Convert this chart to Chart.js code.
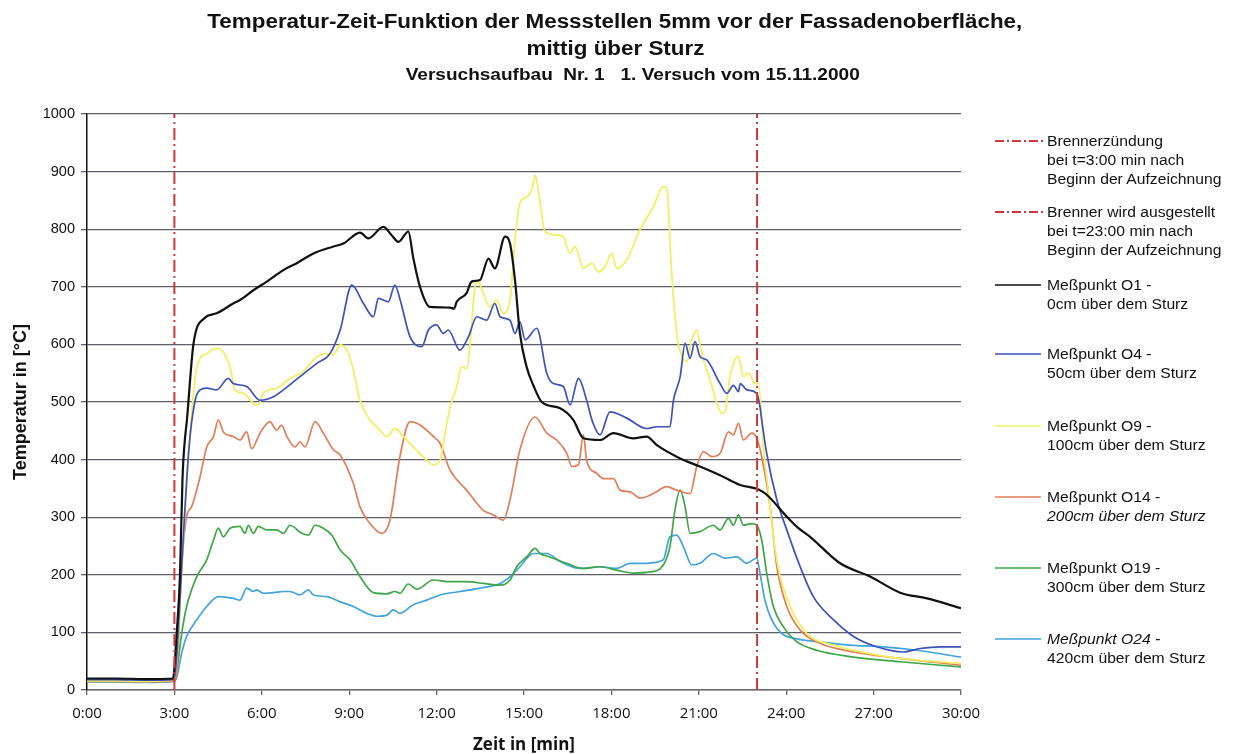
<!DOCTYPE html>
<html lang="de">
<head>
<meta charset="utf-8">
<title>Temperatur-Zeit-Funktion</title>
<script src="https://cdn.jsdelivr.net/npm/chart.js@4.4.1/dist/chart.umd.min.js"></script>
<style>
  html, body { margin: 0; padding: 0; background: #fff; }
  #wrap { position: relative; width: 1243px; height: 754px; overflow: hidden;
          font-family: "Liberation Sans", Arial, sans-serif; color: #111; }
  #chart { position: absolute; left: 0; top: 0; }
  .ttl { position: absolute; left: 0; width: 1230px; text-align: center; font-weight: bold; white-space: pre; }
  .ttl span { display: inline-block; transform: scaleX(1.12); }
  .lg { position: absolute; left: 0; top: 0; }
  .lg svg { position: absolute; left: 993px; }
  .lg .txt { position: absolute; left: 1047px; font-size: 14px; line-height: 19px; white-space: pre;
             transform: scaleX(1.12); transform-origin: left center; }
</style>
</head>
<body>
<div id="wrap">
  <canvas id="chart" width="1243" height="754"></canvas>
  <div class="ttl" style="top:11px;font-size:20px;line-height:20px;"><span>Temperatur-Zeit-Funktion der Messstellen 5mm vor der Fassadenoberfläche,</span></div>
  <div class="ttl" style="top:38px;font-size:20px;line-height:20px;"><span>mittig über Sturz</span></div>
  <div class="ttl" style="top:66px;left:18px;font-size:17px;line-height:17px;"><span>Versuchsaufbau  Nr. 1   1. Versuch vom 15.11.2000</span></div>
  <div id="legend" class="lg"></div>
</div>
<script>
// Messwerte: [Zeit in min, Temperatur in °C]
const o1 = [[0,20],[1,20],[2,19],[2.95,20],[3.08,100],[3.19,197],[3.28,370],[3.45,480],[3.65,599],[4.02,645],[4.45,654],[5.02,671],[5.25,677],[5.71,694],[6.17,709],[6.74,729],[7.2,741],[7.77,758],[8.46,770],[8.8,775],[9.37,794],[9.66,784],[10.17,804],[10.45,790],[10.69,778],[11.03,796],[11.2,750],[11.43,700],[11.77,665],[12.46,664],[12.6,662],[12.69,674],[13.03,689],[13.2,709],[13.49,712],[13.78,749],[14.0,732],[14.35,787],[14.52,775],[14.69,712],[14.86,619],[15.09,561],[15.32,529],[15.61,500],[16.24,489],[16.69,469],[17.04,437],[17.61,434],[18.07,446],[18.75,437],[19.21,440],[19.56,425],[20.36,402],[21.04,388],[21.73,373],[22.42,356],[23.05,348],[23.33,339],[24.02,301],[24.42,281],[24.82,266],[25.85,220],[26.88,197],[27.91,169],[28.83,159],[30,142]];

const o4 = [[0,18],[1,18],[2,17],[3.0,18],[3.15,120],[3.3,260],[3.5,420],[3.7,500],[3.88,521],[4.11,524],[4.45,521],[4.85,541],[5.02,532],[5.48,527],[5.94,503],[6.4,509],[6.74,521],[7.31,544],[7.89,567],[8.34,584],[8.69,625],[9.09,703],[9.49,671],[9.83,648],[10.0,680],[10.34,674],[10.57,703],[10.75,677],[11.09,613],[11.49,596],[11.72,625],[12.0,634],[12.23,619],[12.4,625],[12.8,590],[13.09,613],[13.38,648],[13.72,642],[14.0,671],[14.18,648],[14.52,642],[14.69,619],[14.86,639],[15.04,608],[15.44,628],[15.78,550],[16.01,532],[16.35,527],[16.58,495],[16.87,541],[17.15,503],[17.33,469],[17.61,443],[17.95,483],[18.53,472],[19.21,454],[19.56,457],[20.01,457],[20.13,503],[20.36,544],[20.53,602],[20.7,576],[20.87,605],[21.04,579],[21.27,573],[21.73,532],[21.96,515],[22.19,529],[22.36,518],[22.42,532],[22.65,521],[22.99,515],[23.1,492],[23.16,469],[23.33,411],[23.68,330],[24.02,278],[24.48,214],[24.93,162],[25.62,122],[26.31,93],[27.11,75],[28.02,66],[28.6,72],[29.28,75],[30,75]];

const o9 = [[0,16],[1,16],[2,15],[3.0,17],[3.15,110],[3.3,250],[3.5,420],[3.77,561],[4.11,584],[4.45,593],[4.62,590],[4.91,561],[5.08,521],[5.37,515],[5.71,498],[5.88,495],[6.05,515],[6.51,524],[6.97,541],[7.43,553],[7.83,576],[8.17,584],[8.46,582],[8.69,599],[8.92,590],[9.14,556],[9.37,503],[9.71,469],[10.06,451],[10.29,440],[10.57,454],[10.86,440],[11.2,422],[11.66,399],[11.89,391],[12.12,399],[12.29,446],[12.46,490],[12.69,527],[12.86,561],[13.03,558],[13.15,602],[13.32,700],[13.43,709],[13.6,689],[13.83,665],[14.06,677],[14.29,654],[14.52,677],[14.69,781],[14.86,845],[15.09,856],[15.27,868],[15.38,894],[15.49,868],[15.72,796],[16.12,790],[16.35,787],[16.58,758],[16.75,770],[17.04,732],[17.33,741],[17.55,726],[17.78,735],[18.01,758],[18.18,732],[18.53,747],[18.98,799],[19.44,839],[19.78,874],[19.9,871],[20.07,723],[20.24,619],[20.42,579],[20.59,570],[20.76,608],[20.93,625],[21.1,584],[21.39,538],[21.62,498],[21.79,480],[21.9,483],[22.07,544],[22.36,579],[22.53,544],[22.7,550],[22.93,532],[23.05,532],[23.22,420],[23.4,340],[23.6,250],[23.8,195],[24.02,160],[24.36,122],[24.82,93],[25.62,78],[26.77,64],[27.91,55],[30,46]];

const o14 = [[0,15],[1,15],[2,14],[3.0,16],[3.08,30],[3.25,214],[3.42,301],[3.59,318],[3.88,370],[4.11,422],[4.34,440],[4.51,469],[4.68,448],[5.02,440],[5.25,434],[5.48,448],[5.65,419],[5.94,446],[6.28,466],[6.51,451],[6.68,460],[6.86,440],[7.14,422],[7.31,431],[7.48,422],[7.83,466],[8.11,446],[8.46,417],[8.69,408],[9.14,359],[9.37,318],[9.71,289],[10.12,272],[10.4,295],[10.74,405],[11.09,466],[11.43,460],[11.89,440],[12.12,428],[12.46,382],[13.03,347],[13.6,312],[13.95,304],[14.29,295],[14.52,330],[14.86,417],[15.38,474],[15.78,446],[16.12,434],[16.47,411],[16.64,388],[16.87,391],[17.04,443],[17.15,399],[17.5,376],[17.72,367],[18.07,367],[18.3,347],[18.64,344],[18.98,333],[19.44,341],[19.9,353],[20.24,347],[20.7,341],[20.93,388],[21.16,414],[21.45,405],[21.73,411],[22.02,448],[22.19,443],[22.36,463],[22.53,434],[22.82,446],[22.99,437],[23.16,405],[23.45,318],[23.68,214],[24.02,145],[24.48,104],[25.16,81],[26.19,67],[27.91,55],[30,43]];

const o19 = [[0,15],[1,15],[2,15],[3.0,16],[3.1,40],[3.25,98],[3.42,145],[3.77,197],[4.11,226],[4.34,260],[4.51,281],[4.68,266],[4.91,281],[5.25,284],[5.42,272],[5.54,286],[5.71,272],[5.88,284],[6.17,278],[6.51,278],[6.74,272],[6.97,286],[7.37,272],[7.6,269],[7.83,286],[8.11,281],[8.4,269],[8.69,243],[9.03,226],[9.37,197],[9.83,169],[10.29,167],[10.57,171],[10.74,168],[11.03,184],[11.32,175],[11.89,191],[12.46,188],[13.03,188],[13.6,185],[14.18,182],[14.52,191],[14.75,214],[15.09,231],[15.38,246],[15.55,237],[15.89,231],[16.47,220],[17.04,211],[17.61,214],[18.18,208],[18.75,203],[19.33,205],[19.78,217],[20.01,249],[20.18,312],[20.36,347],[20.53,318],[20.7,272],[21.04,275],[21.5,286],[21.73,278],[22.02,298],[22.19,286],[22.36,304],[22.53,286],[22.82,289],[22.99,286],[23.16,260],[23.33,203],[23.56,145],[23.9,110],[24.36,84],[25.05,69],[26.19,58],[27.91,49],[30,40]];

const o24 = [[0,14],[1,14],[2,13],[3.0,15],[3.08,22],[3.25,64],[3.42,93],[3.77,122],[4.11,145],[4.51,162],[5.02,159],[5.25,156],[5.48,177],[5.71,171],[5.82,174],[6.05,168],[6.4,169],[6.74,171],[6.97,171],[7.31,165],[7.6,174],[7.77,165],[8.23,162],[8.69,153],[9.14,145],[9.6,133],[9.95,128],[10.29,130],[10.51,139],[10.74,133],[11.2,148],[11.66,156],[12.12,165],[12.8,171],[13.49,177],[14.18,185],[14.52,197],[14.86,214],[15.32,237],[15.78,237],[16.24,223],[16.92,211],[17.61,214],[18.18,211],[18.64,220],[19.21,220],[19.78,226],[20.01,266],[20.24,269],[20.47,249],[20.76,217],[21.04,220],[21.5,237],[21.9,229],[22.3,231],[22.65,220],[22.99,229],[23.1,203],[23.27,156],[23.5,122],[23.85,98],[24.25,90],[25.05,84],[26.19,78],[27.33,75],[28.48,69],[30,57]];

// Brenner an (3:00) und aus (23:00)
const burnerOn  = [[3, 0], [3, 1000]];
const burnerOff = [[23, 0], [23, 1000]];

// Achsen
const timeTicks = ['0:00','3:00','6:00','9:00','12:00','15:00','18:00','21:00','24:00','27:00','30:00'];
const tempRange = [0, 1000];

const pts = arr => arr.map(([x, y]) => ({ x, y }));

const dashDot = [12, 4, 2, 4];
const red = '#cc3a3a';

function series(label, data, color, width, italic) {
  return {
    label, data: pts(data), borderColor: color, backgroundColor: color,
    borderWidth: width, pointRadius: 0, fill: false,
    cubicInterpolationMode: 'monotone', legendItalic: italic || []
  };
}

const datasets = [
  { label: ['Brennerzündung', 'bei t=3:00 min nach', 'Beginn der Aufzeichnung'],
    data: pts(burnerOn), borderColor: red, borderWidth: 2, borderDash: dashDot, pointRadius: 0, legendDash: true },
  { label: ['Brenner wird ausgestellt', 'bei t=23:00 min nach', 'Beginn der Aufzeichnung'],
    data: pts(burnerOff), borderColor: red, borderWidth: 2, borderDash: dashDot, pointRadius: 0, legendDash: true },
  series(['Meßpunkt O1 -', '0cm über dem Sturz'], o1, '#111111', 2.2),
  series(['Meßpunkt O4 -', '50cm über dem Sturz'], o4, '#3d52b8', 1.7),
  series(['Meßpunkt O9 -', '100cm über dem Sturz'], o9, '#f3ef62', 1.8),
  series(['Meßpunkt O14 -', '200cm über dem Sturz'], o14, '#e07e58', 1.7, [1]),
  series(['Meßpunkt O19 -', '300cm über dem Sturz'], o19, '#3ea646', 1.7),
  series(['Meßpunkt O24 -', '420cm über dem Sturz'], o24, '#41a4dc', 1.7, [0])
];

const fmtTime = v => timeTicks[Math.round(v / 3)] ?? '';

const chart = new Chart(document.getElementById('chart'), {
  type: 'line',
  data: { datasets },
  options: {
    responsive: false,
    animation: false,
    events: [],
    layout: { padding: { top: 114, right: 282, bottom: 0, left: 0 } },
    plugins: { legend: { display: false }, tooltip: { enabled: false }, title: { display: false } },
    scales: {
      x: {
        type: 'linear', min: 0, max: 30,
        afterFit: s => { s.height = 64; },
        afterBuildTicks: s => { s.ticks = timeTicks.map((_, i) => ({ value: i * 3 })); },
        ticks: { callback: fmtTime, padding: 10, color: '#111',
                 font: { family: '"Open Sans", "Liberation Sans", sans-serif', size: 15 }, maxRotation: 0 },
        grid: { drawOnChartArea: false, drawTicks: true, tickLength: 5, color: '#666', lineWidth: 1.3 },
        border: { display: true, color: '#6a6a72', width: 1.5 },
        title: { display: true, text: 'Zeit in [min]', color: '#111', padding: { top: 0, bottom: 0 },
                 font: { family: '"Open Sans", "Liberation Sans", sans-serif', size: 17, weight: 'bold', lineHeight: 1 } }
      },
      y: {
        min: tempRange[0], max: tempRange[1],
        afterFit: s => { s.width = 87; },
        ticks: { stepSize: 100, padding: 6, color: '#111', callback: v => String(v),
                 font: { family: '"Liberation Sans", Arial, sans-serif', size: 14.5 } },
        grid: { color: '#5e5e68', lineWidth: 1.3, tickLength: 6, drawTicks: true },
        border: { display: true, color: '#111', width: 1.5 },
        title: { display: true, text: 'Temperatur in [°C]', color: '#111', padding: { top: 10, bottom: 0 },
                 font: { family: '"Liberation Sans", Arial, sans-serif', size: 18, weight: 'bold' } }
      }
    }
  }
});

// Legende rechts neben dem Diagramm
const slotCenters = [141, 212, 285, 354, 426, 497, 568, 639];
const legend = document.getElementById('legend');
chart.data.datasets.forEach((ds, i) => {
  const cy = slotCenters[i];
  const svgNS = 'http://www.w3.org/2000/svg';
  const svg = document.createElementNS(svgNS, 'svg');
  svg.setAttribute('width', '52'); svg.setAttribute('height', '6');
  svg.style.top = (cy - 3) + 'px';
  const ln = document.createElementNS(svgNS, 'line');
  ln.setAttribute('x1', '2'); ln.setAttribute('x2', ds.legendDash ? '50' : '48');
  ln.setAttribute('y1', '3'); ln.setAttribute('y2', '3');
  ln.setAttribute('stroke', ds.borderColor);
  ln.setAttribute('stroke-width', ds.legendDash ? '2' : '1.6');
  if (ds.legendDash) ln.setAttribute('stroke-dasharray', '9 3 2 3');
  svg.appendChild(ln);
  legend.appendChild(svg);
  ds.label.forEach((line, k) => {
    const d = document.createElement('div');
    d.className = 'txt';
    d.textContent = line;
    d.style.top = (cy - 9.5 + k * 19) + 'px';
    if ((ds.legendItalic || []).includes(k)) d.style.fontStyle = 'italic';
    legend.appendChild(d);
  });
});
</script>
</body>
</html>
